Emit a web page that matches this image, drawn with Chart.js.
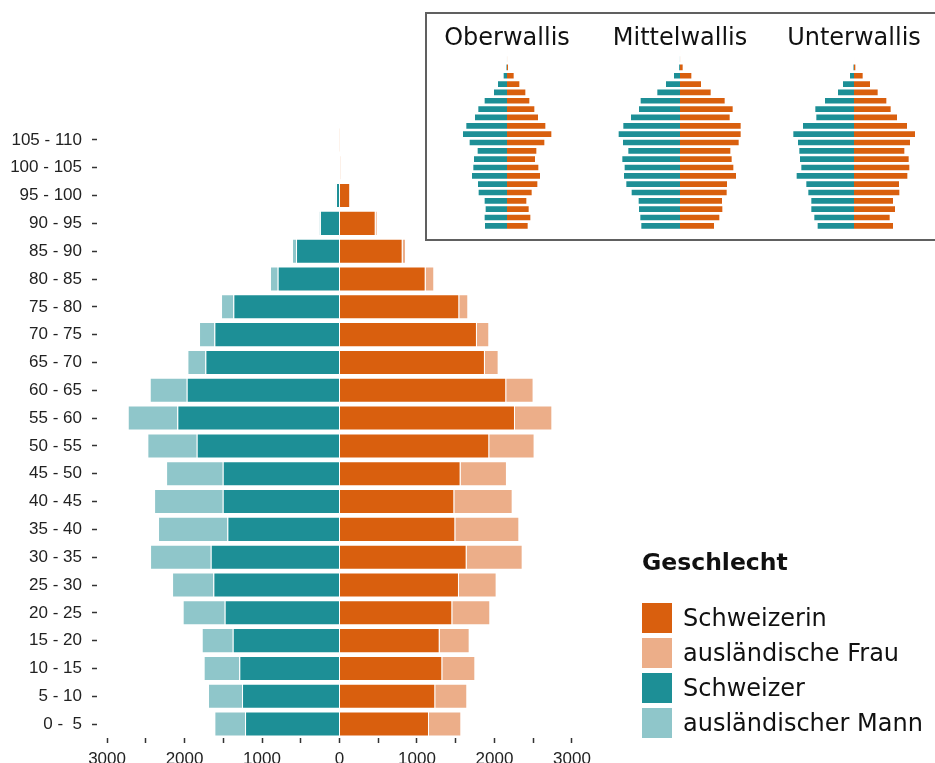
<!DOCTYPE html>
<html>
<head>
<meta charset="utf-8">
<script src="https://cdn.jsdelivr.net/npm/chart.js@4.4.0/dist/chart.umd.min.js"></script>
<style>
  html, body { margin: 0; padding: 0; width: 935px; height: 763px; overflow: hidden; background: #fff; }
  #main { position: absolute; left: 0; top: 0; width: 935px; height: 800px; }
  #inset { position: absolute; left: 425px; top: 12px; width: 540px; height: 229px; border: 2px solid #606060; box-sizing: border-box; }
  .mini { position: absolute; top: 5px; width: 170px; height: 225px; }
  #legend { position: absolute; left: 642px; top: 546px; font-family: 'DejaVu Sans', sans-serif; color: #111; }
  #legend .title { font-weight: bold; font-size: 23.5px; height: 32px; line-height: 32px; margin-bottom: 22px; }
  #legend .item { display: flex; align-items: center; height: 35px; font-size: 24px; }
  #legend .box { width: 30px; height: 30px; margin-right: 11px; }
</style>
</head>
<body>
<div id="main"><canvas id="pyramid"></canvas></div>
<div id="inset"></div>
<div class="mini" style="left:422px"><canvas id="ober"></canvas></div>
<div class="mini" style="left:595px"><canvas id="mittel"></canvas></div>
<div class="mini" style="left:769px"><canvas id="unter"></canvas></div>
<div id="legend"></div>
<script>
// Altersklassen, von unten nach oben
const ageGroups = ['0 -  5', '5 - 10', '10 - 15', '15 - 20', '20 - 25', '25 - 30', '30 - 35', '35 - 40',
  '40 - 45', '45 - 50', '50 - 55', '55 - 60', '60 - 65', '65 - 70', '70 - 75', '75 - 80',
  '80 - 85', '85 - 90', '90 - 95', '95 - 100', '100 - 105', '105 - 110'];

const schweizerin = [1155, 1236, 1327, 1293, 1456, 1542, 1641, 1495, 1482, 1563, 1933, 2265, 2152, 1877, 1774, 1546, 1112, 815, 467, 138, 12, 2];
const auslFrau = [417, 413, 426, 387, 490, 486, 723, 826, 753, 598, 585, 482, 353, 177, 159, 116, 111, 43, 25, 0, 0, 3];
const schweizer = [1219, 1258, 1293, 1378, 1482, 1628, 1662, 1447, 1507, 1507, 1843, 2093, 1972, 1731, 1615, 1370, 798, 561, 252, 45, 0, 0];
const auslMann = [396, 439, 460, 400, 542, 533, 783, 895, 886, 731, 637, 640, 477, 232, 198, 159, 99, 52, 8, 5, 0, 0];

const xTickValues = [-3000, -2500, -2000, -1500, -1000, -500, 0, 500, 1000, 1500, 2000, 2500, 3000];

// Regionen (kleine Pyramiden oben rechts)
const regions = ['Oberwallis', 'Mittelwallis', 'Unterwallis'];
const oberMaenner = [1380, 1400, 1340, 1400, 1760, 1800, 2160, 2080, 2040, 1820, 2300, 2700, 2500, 1980, 1780, 1400, 840, 600, 260, 60, 10, 0];
const oberFrauen = [1300, 1460, 1360, 1220, 1540, 1880, 2040, 1940, 1740, 1820, 2300, 2720, 2360, 1920, 1700, 1400, 1160, 800, 460, 120, 20, 5];
const mittelMaenner = [2380, 2440, 2520, 2540, 2960, 3280, 3420, 3380, 3520, 3160, 3480, 3740, 3460, 3000, 2520, 2420, 1420, 900, 420, 100, 20, 0];
const mittelFrauen = [2100, 2420, 2600, 2580, 2860, 2880, 3420, 3260, 3160, 3080, 3580, 3700, 3700, 3040, 3220, 2740, 1900, 1320, 740, 220, 20, 5];
const unterMaenner = [2240, 2440, 2620, 2620, 2800, 2920, 3500, 3220, 3300, 3340, 3420, 3700, 3120, 2320, 2380, 1800, 1020, 720, 300, 60, 0, 0];
const unterFrauen = [2400, 2200, 2520, 2400, 2780, 2760, 3260, 3380, 3340, 3080, 3420, 3720, 3240, 2640, 2260, 2000, 1480, 1020, 580, 140, 5, 0];

const seriesNames = ['Schweizerin', 'ausländische Frau', 'Schweizer', 'ausländischer Mann'];
const seriesColors = ['#d95f0e', '#ecae89', '#1d8f96', '#8fc6ca'];

Chart.defaults.font.family = "'Liberation Sans', Arial, sans-serif";
Chart.defaults.animation = false;

const neg = (arr) => arr.map(v => -v);

const ctx = document.getElementById('pyramid').getContext('2d');
const pyramidChart = new Chart(ctx, {
  type: 'bar',
  data: {
    labels: ageGroups,
    datasets: [
      { label: seriesNames[0], data: schweizerin, backgroundColor: seriesColors[0] },
      { label: seriesNames[1], data: auslFrau, backgroundColor: seriesColors[1] },
      { label: seriesNames[2], data: neg(schweizer), backgroundColor: seriesColors[2] },
      { label: seriesNames[3], data: neg(auslMann), backgroundColor: seriesColors[3] }
    ].map(d => Object.assign(d, {
      borderColor: 'rgba(255,255,255,0.4)',
      borderWidth: 1,
      barPercentage: 0.9,
      categoryPercentage: 1.0
    }))
  },
  options: {
    indexAxis: 'y',
    responsive: true,
    maintainAspectRatio: false,
    layout: { padding: { top: 126, left: 0, right: 353, bottom: 32 } },
    scales: {
      x: {
        type: 'linear',
        stacked: true,
        min: -3130,
        max: 3130,
        afterBuildTicks: (scale) => { scale.ticks = xTickValues.map(v => ({ value: v })); },
        afterFit: (scale) => { scale.height = 30; },
        ticks: {
          callback: (v) => (v % 1000 === 0 ? String(Math.abs(v)) : ''),
          autoSkip: false,
          maxRotation: 0,
          padding: 6,
          color: '#222',
          font: { size: 17 }
        },
        grid: { drawOnChartArea: false, tickLength: 5, tickColor: '#333', tickWidth: 1.5 },
        border: { display: false }
      },
      y: {
        type: 'category',
        stacked: true,
        reverse: true,
        afterFit: (scale) => { scale.width = 97; },
        ticks: { autoSkip: false, padding: 10, color: '#222', font: { size: 17 } },
        grid: { offset: false, drawOnChartArea: false, tickLength: 5, tickColor: '#333', tickWidth: 1.5 },
        border: { display: false }
      }
    },
    plugins: {
      legend: { display: false },
      tooltip: { enabled: false }
    }
  }
});

// kleine Pyramiden
function miniPyramid(id, title, maenner, frauen) {
  return new Chart(document.getElementById(id).getContext('2d'), {
    type: 'bar',
    data: {
      labels: ageGroups,
      datasets: [
        { label: 'Frauen', data: frauen, backgroundColor: seriesColors[0] },
        { label: 'Männer', data: neg(maenner), backgroundColor: seriesColors[2] }
      ].map(d => Object.assign(d, {
        borderColor: 'rgba(255,255,255,0.6)',
        borderWidth: 1,
        barPercentage: 0.92,
        categoryPercentage: 1.0
      }))
    },
    options: {
      indexAxis: 'y',
      responsive: true,
      maintainAspectRatio: false,
      layout: { padding: 0 },
      scales: {
        x: { stacked: true, min: -5100, max: 5100, display: false },
        y: { stacked: true, reverse: true, display: false }
      },
      plugins: {
        legend: { display: false },
        tooltip: { enabled: false },
        title: {
          display: true,
          text: title,
          color: '#111',
          font: { family: "'DejaVu Sans', sans-serif", size: 24, weight: 'normal', lineHeight: 0.6 },
          padding: { top: 27, bottom: 0.2 }
        }
      }
    }
  });
}

miniPyramid('ober', regions[0], oberMaenner, oberFrauen);
miniPyramid('mittel', regions[1], mittelMaenner, mittelFrauen);
miniPyramid('unter', regions[2], unterMaenner, unterFrauen);

// Legende
const legend = document.getElementById('legend');
const lt = document.createElement('div');
lt.className = 'title';
lt.textContent = 'Geschlecht';
legend.appendChild(lt);
seriesNames.forEach((name, i) => {
  const item = document.createElement('div');
  item.className = 'item';
  const box = document.createElement('div');
  box.className = 'box';
  box.style.background = seriesColors[i];
  const txt = document.createElement('span');
  txt.textContent = name;
  item.appendChild(box);
  item.appendChild(txt);
  legend.appendChild(item);
});
</script>
</body>
</html>
